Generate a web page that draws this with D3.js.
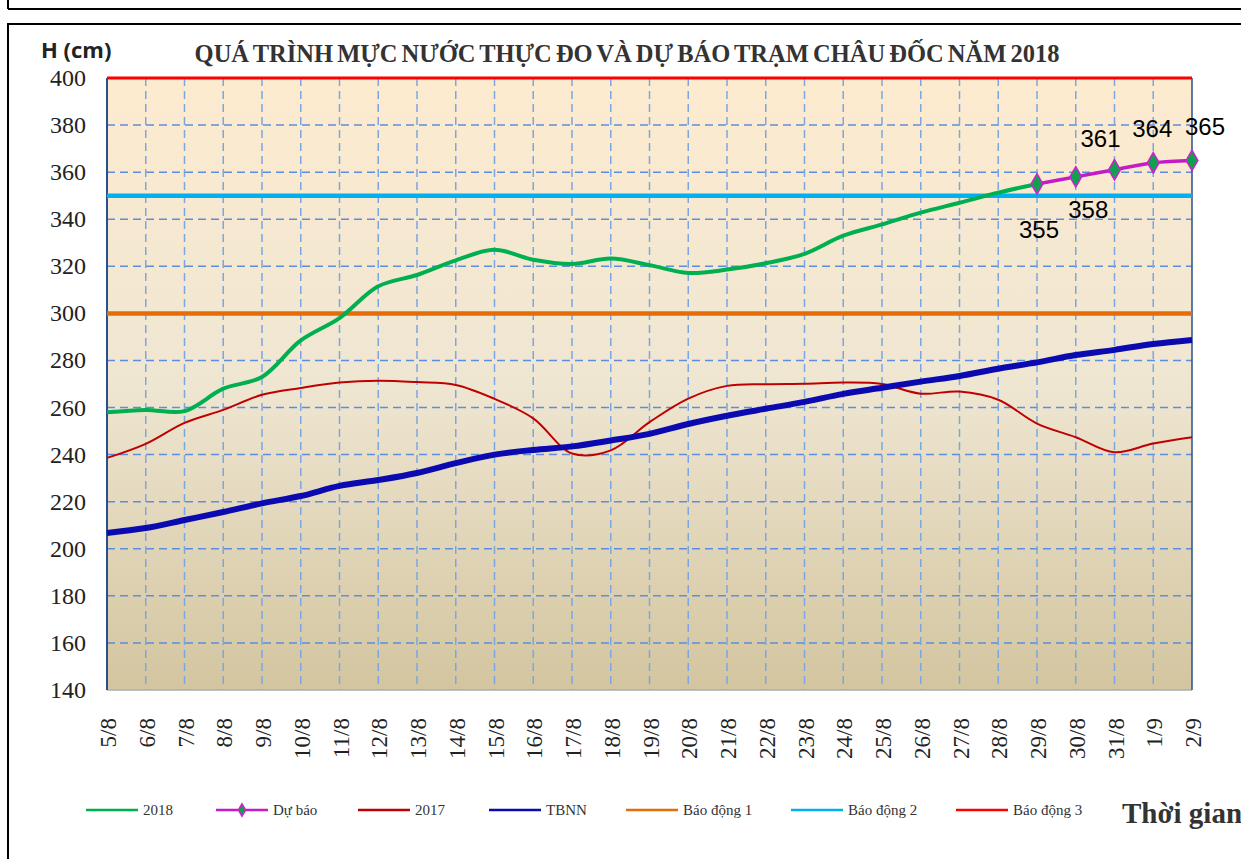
<!DOCTYPE html>
<html>
<head>
<meta charset="utf-8">
<script src="https://cdn.jsdelivr.net/npm/d3@7"></script>
<style>
  body { margin: 0; background: #fff; }
  svg { display: block; }
</style>
</head>
<body>
<svg id="chart" width="1241" height="859"></svg>
<script>
const dates = ['5/8', '6/8', '7/8', '8/8', '9/8', '10/8', '11/8', '12/8', '13/8', '14/8',
  '15/8', '16/8', '17/8', '18/8', '19/8', '20/8', '21/8', '22/8', '23/8', '24/8',
  '25/8', '26/8', '27/8', '28/8', '29/8', '30/8', '31/8', '1/9', '2/9'];

// 2018 measured, 5/8 -> 29/8
const h2018 = [258, 259, 258.5, 268, 273, 288.5, 298, 311.5, 316.3, 322.5,
  327, 322.8, 321, 323.3, 320.5, 317.2, 318.6, 321.3, 325.3, 333,
  337.8, 342.8, 347, 351.3, 355];

// forecast, 29/8 -> 2/9
const forecastDates = ['29/8', '30/8', '31/8', '1/9', '2/9'];
const forecast = [355, 358, 361, 364, 365];

const h2017 = [238.6, 244.6, 253.5, 259, 265.4, 268.3, 270.6, 271.4, 270.8, 269.6,
  263.7, 255.4, 240.5, 241.8, 253.8, 263.8, 269.2, 269.9, 270.1, 270.6,
  270, 265.9, 266.8, 263.3, 253.2, 247.4, 241, 244.7, 247.4];

const tbnn = [206.7, 208.8, 212.2, 215.6, 219.3, 222.4, 226.7, 229.2, 232.2, 236.4,
  240, 242, 243.5, 246, 248.8, 253, 256.5, 259.5, 262.4, 265.8,
  268.4, 271, 273.4, 276.5, 279.2, 282.3, 284.5, 287, 288.7];

const alarmLevels = [300, 350, 400];
const alarmNames = ['Báo động 1', 'Báo động 2', 'Báo động 3'];
const alarmColors = ['#e46c0a', '#00b0f0', '#ff0000'];

const yTicks = [140, 160, 180, 200, 220, 240, 260, 280, 300, 320, 340, 360, 380, 400];

const svg = d3.select('#chart');
const pLeft = 107, pRight = 1192, pTop = 78, pBottom = 690;

const x = d3.scalePoint().domain(dates).range([pLeft, pRight]);
const y = d3.scaleLinear().domain([140, 400]).range([pBottom, pTop]);

// frames
svg.append('line').attr('x1', 8).attr('x2', 1241).attr('y1', 9).attr('y2', 9)
  .attr('stroke', '#000').attr('stroke-width', 2);
svg.append('line').attr('x1', 8).attr('x2', 8).attr('y1', 0).attr('y2', 9)
  .attr('stroke', '#000').attr('stroke-width', 2);
svg.append('rect').attr('x', 8).attr('y', 24).attr('width', 1250).attr('height', 850)
  .attr('fill', 'none').attr('stroke', '#000').attr('stroke-width', 2);

// background gradient
const grad = svg.append('defs').append('linearGradient')
  .attr('id', 'bg').attr('x1', 0).attr('x2', 0).attr('y1', 0).attr('y2', 1);
grad.append('stop').attr('offset', '0%').attr('stop-color', '#fdebcf');
grad.append('stop').attr('offset', '50%').attr('stop-color', '#efe6d2');
grad.append('stop').attr('offset', '100%').attr('stop-color', '#d3c59f');

svg.append('rect')
  .attr('x', pLeft).attr('y', pTop)
  .attr('width', pRight - pLeft).attr('height', pBottom - pTop)
  .attr('fill', 'url(#bg)');

// grid
svg.append('g').selectAll('line')
  .data(yTicks.slice(1, -1))
  .join('line')
  .attr('x1', pLeft).attr('x2', pRight)
  .attr('y1', d => y(d)).attr('y2', d => y(d))
  .attr('stroke', '#5b8ee0').attr('stroke-width', 1.5)
  .attr('stroke-dasharray', '8,5');

svg.append('g').selectAll('line')
  .data(dates.slice(1, -1))
  .join('line')
  .attr('x1', d => x(d)).attr('x2', d => x(d))
  .attr('y1', pTop).attr('y2', pBottom)
  .attr('stroke', '#7aa6e3').attr('stroke-width', 1.5)
  .attr('stroke-dasharray', '8,5');

// plot borders
svg.append('line').attr('x1', pLeft).attr('x2', pRight).attr('y1', pBottom).attr('y2', pBottom)
  .attr('stroke', '#a8adb5').attr('stroke-width', 1.5);
svg.append('line').attr('x1', pLeft).attr('x2', pLeft).attr('y1', pTop).attr('y2', pBottom)
  .attr('stroke', '#2a4f8a').attr('stroke-width', 2);
svg.append('line').attr('x1', pRight).attr('x2', pRight).attr('y1', pTop).attr('y2', pBottom)
  .attr('stroke', '#2a4f8a').attr('stroke-width', 1.5);

// alarm lines
svg.append('g').selectAll('line')
  .data(alarmLevels)
  .join('line')
  .attr('x1', pLeft).attr('x2', pRight)
  .attr('y1', d => y(d)).attr('y2', d => y(d))
  .attr('stroke', (d, i) => alarmColors[i])
  .attr('stroke-width', (d, i) => i == 2 ? 3 : 4.5);

// series
const line = d3.line().curve(d3.curveCatmullRom);

svg.append('path')
  .attr('d', line(h2017.map((v, i) => [x(dates[i]), y(v)])))
  .attr('fill', 'none').attr('stroke', '#c00000').attr('stroke-width', 2);

svg.append('path')
  .attr('d', line(tbnn.map((v, i) => [x(dates[i]), y(v)])))
  .attr('fill', 'none').attr('stroke', '#0a0ab0').attr('stroke-width', 6);

svg.append('path')
  .attr('d', line(h2018.map((v, i) => [x(dates[i]), y(v)])))
  .attr('fill', 'none').attr('stroke', '#00b050').attr('stroke-width', 4);

svg.append('path')
  .attr('d', line(forecast.map((v, i) => [x(forecastDates[i]), y(v)])))
  .attr('fill', 'none').attr('stroke', '#c41cc4').attr('stroke-width', 3.5);

const diamond = d3.symbol().type(d3.symbolDiamond).size(120);
svg.append('g').selectAll('path')
  .data(forecast)
  .join('path')
  .attr('d', diamond)
  .attr('transform', (d, i) => `translate(${x(forecastDates[i])},${y(d)})`)
  .attr('fill', '#10a050').attr('stroke', '#d020d0').attr('stroke-width', 1.5);

// value labels
const labelOffsets = [[2, 54], [12.5, 41], [-14, -23], [-1, -26], [13, -25]];
svg.append('g').selectAll('text')
  .data(forecast)
  .join('text')
  .attr('x', (d, i) => x(forecastDates[i]) + labelOffsets[i][0])
  .attr('y', (d, i) => y(d) + labelOffsets[i][1])
  .attr('text-anchor', 'middle')
  .style('font-family', '"Liberation Sans", Arial, sans-serif')
  .style('font-size', '24px')
  .style('fill', '#000')
  .text(d => d);

// y tick labels
svg.append('g').selectAll('text')
  .data(yTicks)
  .join('text')
  .attr('x', 86)
  .attr('y', d => y(d) + 8)
  .attr('text-anchor', 'end')
  .style('font-family', '"Liberation Serif", "Times New Roman", serif')
  .style('font-size', '24px')
  .style('fill', '#222')
  .text(d => d);

// x tick labels
svg.append('g').selectAll('text')
  .data(dates)
  .join('text')
  .attr('transform', d => `translate(${x(d) + 9},718) rotate(-90)`)
  .attr('text-anchor', 'end')
  .style('font-family', '"Liberation Serif", "Times New Roman", serif')
  .style('font-size', '23px')
  .style('fill', '#222')
  .text(d => d);

// titles
svg.append('text')
  .attr('x', 41).attr('y', 58)
  .style('font-family', '"Open Sans", "Noto Sans", sans-serif')
  .style('font-weight', 'bold')
  .style('font-size', '22px')
  .style('fill', '#222')
  .text('H (cm)');

svg.append('text')
  .attr('x', 627).attr('y', 62)
  .attr('text-anchor', 'middle')
  .style('font-family', '"Liberation Serif", "Times New Roman", serif')
  .style('font-weight', 'bold')
  .style('font-size', '24.5px')
  .style('word-spacing', '-2px')
  .style('fill', '#333')
  .text('QUÁ TRÌNH MỰC NƯỚC THỰC ĐO VÀ DỰ BÁO TRẠM CHÂU ĐỐC NĂM 2018');

svg.append('text')
  .attr('x', 1122).attr('y', 823)
  .style('font-family', '"Liberation Serif", "Times New Roman", serif')
  .style('font-weight', 'bold')
  .style('font-size', '29px')
  .style('fill', '#333')
  .text('Thời gian');

// legend
const legendNames = ['2018', 'Dự báo', '2017', 'TBNN'].concat(alarmNames);
const legendColors = ['#00b050', '#c41cc4', '#c00000', '#0a0ab0'].concat(alarmColors);
const legendX = [86, 216, 358, 489, 626, 791, 956];

const legend = svg.append('g').selectAll('g')
  .data(legendNames)
  .join('g')
  .attr('transform', (d, i) => `translate(${legendX[i]},810)`);

legend.append('line')
  .attr('x1', 0).attr('x2', 52).attr('y1', 0).attr('y2', 0)
  .attr('stroke', (d, i) => legendColors[i]).attr('stroke-width', 2.5);

legend.filter(d => d == 'Dự báo').append('path')
  .attr('d', d3.symbol().type(d3.symbolDiamond).size(45))
  .attr('transform', 'translate(26,0)')
  .attr('fill', '#10a050').attr('stroke', '#d020d0').attr('stroke-width', 1.5);

legend.append('text')
  .attr('x', 57).attr('y', 5)
  .style('font-family', '"Liberation Serif", "Times New Roman", serif')
  .style('font-size', '15px')
  .style('fill', '#333')
  .text(d => d);
</script>
</body>
</html>
